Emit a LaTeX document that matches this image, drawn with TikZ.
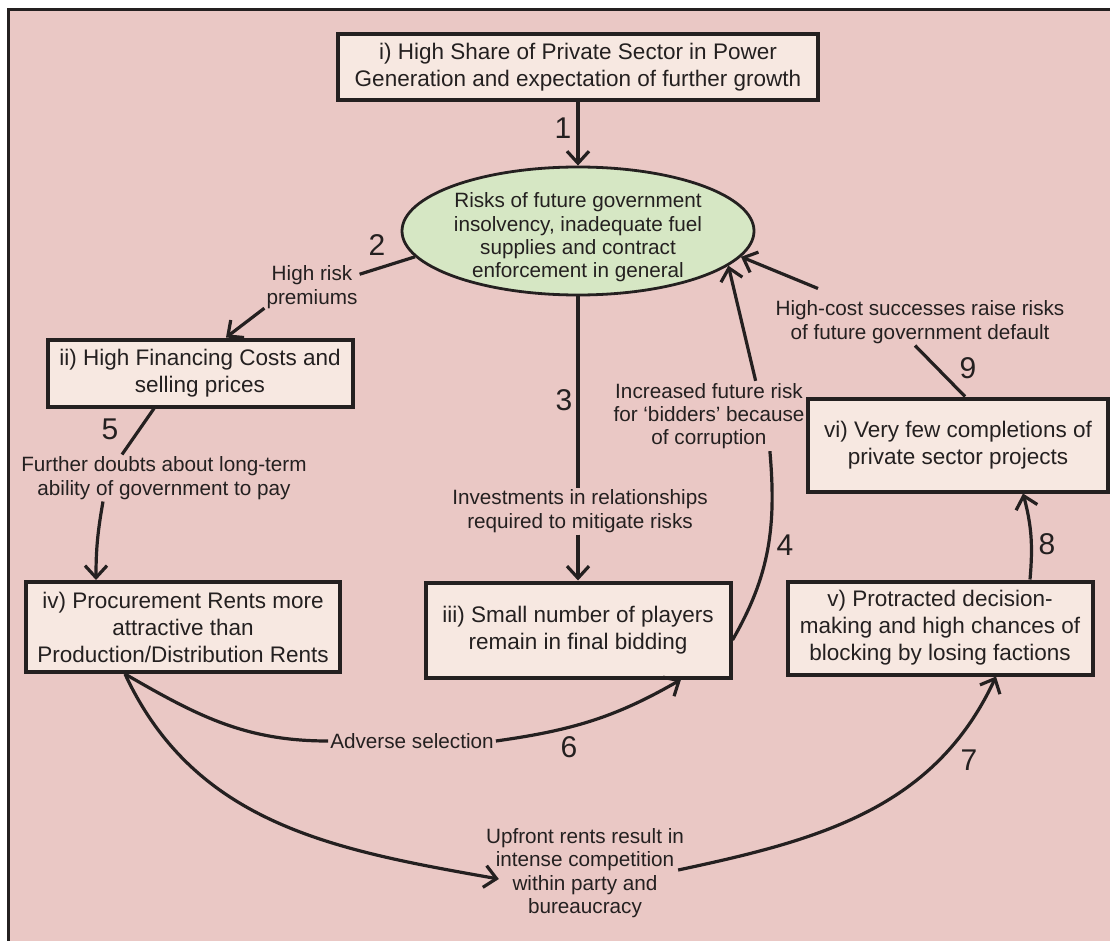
\documentclass[tikz,border=0pt]{standalone}
\usepackage{fontspec}
\setmainfont{Liberation Sans}
\usetikzlibrary{arrows.meta,shapes.geometric}
\definecolor{bg}{RGB}{234,200,197}
\definecolor{boxfill}{RGB}{247,232,225}
\definecolor{ellfill}{RGB}{214,231,196}
\definecolor{ink}{RGB}{36,32,32}
\newcommand{\boxfont}{\fontsize{22.5}{27}\selectfont}
\newcommand{\labfont}{\fontsize{20.7}{23.3}\selectfont}
\newcommand{\numfont}{\fontsize{30}{30}\selectfont}

\begin{document}
\begin{tikzpicture}[x=1pt, y=-1pt, >={Straight Barb[length=12pt,width=22pt]},
  every node/.style={text=ink},
  box/.style={draw=ink, line width=4pt, fill=boxfill, align=center, font=\boxfont, inner sep=0pt},
  lab/.style={align=center, font=\labfont, inner sep=2pt},
  num/.style={font=\numfont, inner sep=0pt},
  link/.style={draw=ink, line width=3.2pt}]
  \useasboundingbox (0,0) rectangle (1110,941);
  \fill[white] (0,0) rectangle (1110,941);
  \fill[bg] (8,10) rectangle (1110,941);
  \draw[ink, line width=3pt] (8,941) -- (8,10) -- (1110,10);
  % boxes and the risk ellipse
  \node[box, minimum width=480pt, minimum height=66pt] (gen) at (578,67) {i) High Share of Private Sector in Power\\Generation and expectation of further growth};
  \node[draw=ink, line width=2.8pt, fill=ellfill, ellipse, minimum width=352pt, minimum height=128pt, inner sep=-10pt, align=center, font=\labfont] (risk) at (578,231) {\rule{0pt}{28pt}Risks of future government\\insolvency, inadequate fuel\\supplies and contract\\enforcement in general};
  \node[box, minimum width=305pt, minimum height=67pt] (fin) at (200,373) {ii) High Financing Costs and\\selling prices};
  \node[box, minimum width=314pt, minimum height=90pt] (rents) at (183,627) {iv) Procurement Rents more\\attractive than\\Production/Distribution Rents};
  \node[box, minimum width=305pt, minimum height=95pt] (players) at (578,630) {iii) Small number of players\\remain in final bidding};
  \node[box, minimum width=305pt, minimum height=93pt] (block) at (940,628) {v) Protracted decision-\\making and high chances of\\blocking by losing factions};
  \node[box, minimum width=300pt, minimum height=93pt] (done) at (958,445) {vi) Very few completions of\\private sector projects};
  % link labels
  \node[lab] (prem) at (312,287) {High risk\\premiums};
  \node[lab] (invest) at (580,511) {Investments in relationships\\required to mitigate risks};
  \node[lab] (corrupt) at (709,416) {Increased future risk\\for ‘bidders’ because\\of corruption};
  \node[lab] (doubt) at (164,478) {Further doubts about long-term\\ability of government to pay};
  \node[lab] (highcost) at (920,322) {High-cost successes raise risks\\of future government default};
  \node[lab] (adverse) at (412,741) {Adverse selection};
  \node[lab] (upfront) at (585,873) {Upfront rents result in\\intense competition\\within party and\\bureaucracy};
  \foreach \n/\x/\y in {1/563/128, 2/377/245, 3/564/400, 4/785/545, 5/110/429,
                        6/569/747, 7/969/760, 8/1047/544, 9/968/368}
    \node[num] (n\n) at (\x,\y) {\n};
  % links
  \draw[link, ->] (gen.south) -- (gen.south |- risk.north);
  \draw[link] (risk.189) -- (prem.15);
  \draw[link, ->] (prem.204) -- ([xshift=26pt]fin.north);
  \draw[link] (risk.south) -- (risk.south |- invest.north);
  \draw[link, ->] (invest.south -| players.north) -- (players.north);
  \draw[link] ([yshift=-10pt]players.east) to[out=60, in=-85] (corrupt.-30);
  \draw[link, ->] (corrupt.37) -- (risk.-13);
  \draw[link] ([xshift=-46pt]fin.south) -- ([xshift=-42pt]doubt.north);
  \draw[link, ->] ([xshift=-61pt]doubt.south) to[out=-100, in=90] ([xshift=-87pt]rents.north);
  \draw[link] ([xshift=-58pt]rents.south) to[out=-30, in=180] (adverse.west);
  \draw[link, ->] (adverse.east) to[out=8, in=-150] ([xshift=103pt]players.south);
  \draw[link, ->] ([xshift=-58pt]rents.south) to[out=-65, in=170] ([xshift=15pt,yshift=-6pt]upfront.west);
  \draw[link, ->] ([xshift=-8pt,yshift=3pt]upfront.east) to[out=12, in=-115] ([xshift=56pt]block.south);
  \draw[link, ->] ([xshift=90pt]block.north) to[out=85, in=-75] ([xshift=65pt]done.south);
  \draw[link] ([xshift=7pt]done.north) -- ([xshift=-5pt]highcost.south);
  \draw[link, ->] ([xshift=-102pt,yshift=10pt]highcost.north) -- (risk.-9);
\end{tikzpicture}
\end{document}
